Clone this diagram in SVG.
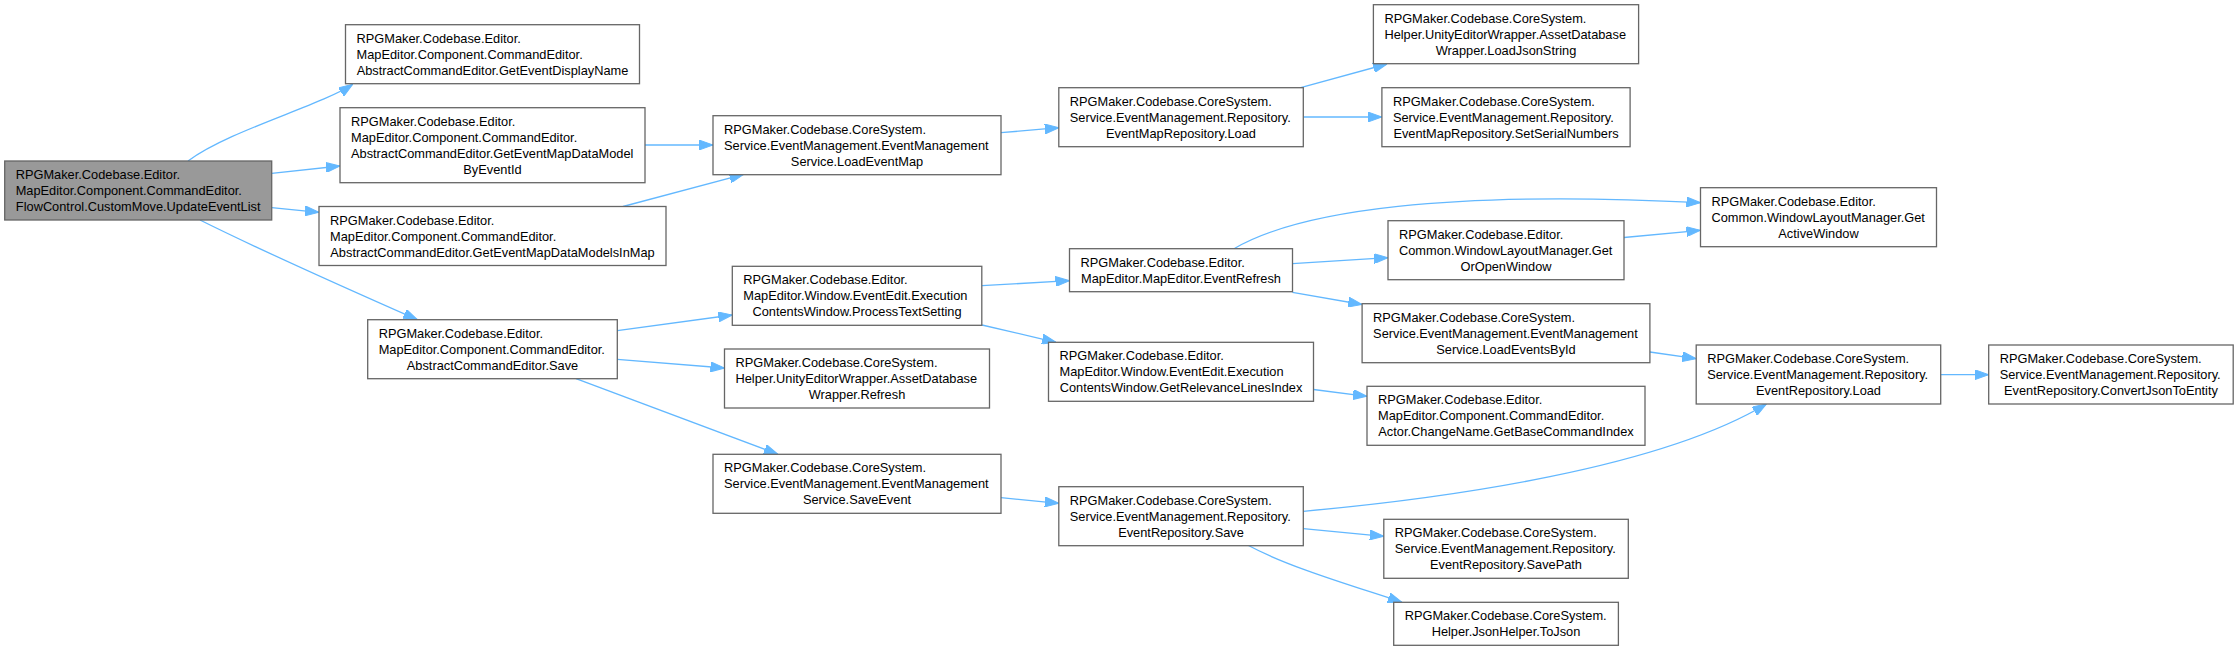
<svg xmlns="http://www.w3.org/2000/svg" width="2239" height="651" viewBox="0 0 2239 651">
<style>
.node rect{fill:#ffffff;stroke:#666666;stroke-width:1.3}
.node.root rect{fill:#999999}
.node text{font-family:"Liberation Sans",Arial,sans-serif;font-size:12.8px;fill:#000000}
.node text.c{text-anchor:middle}
.edges path{fill:none;stroke:#63b8ff;stroke-width:1.3;marker-end:url(#ah)}
</style>
<defs>
<marker id="ah" markerWidth="14" markerHeight="10" refX="14" refY="5" orient="auto" markerUnits="userSpaceOnUse"><path d="M0,0 L14,5 L0,10 z" fill="#63b8ff" stroke="#63b8ff" stroke-width="1"/></marker>
</defs>
<rect x="0" y="0" width="2239" height="651" fill="#ffffff"/>
<g class="edges" id="edges">
<path d="M188,161 C230,130 320,106 352.7,84.3"/>
<path d="M271.7,173.3 L340,166"/>
<path d="M271.7,207.7 L319,212.3"/>
<path d="M200,220 C260,250 350,290 417.4,319.7"/>
<path d="M645,145 L713,145"/>
<path d="M623,206.5 L743.6,174.3"/>
<path d="M1001,132.7 L1058.8,127.7"/>
<path d="M1300.7,87.7 L1387,64"/>
<path d="M1303.3,117 L1381.9,117"/>
<path d="M617.3,330.7 L732.3,315"/>
<path d="M617.3,359.3 L724.5,368"/>
<path d="M576,378.7 L778,454.3"/>
<path d="M982,285.7 L1069.5,280.7"/>
<path d="M982,325 L1056,342.3"/>
<path d="M1234,248.7 C1300,210 1450,190 1700.5,202.7"/>
<path d="M1292.5,263.7 L1388,257.7"/>
<path d="M1292.5,292.3 L1362.1,304.5"/>
<path d="M1313.5,389.5 L1367,396.3"/>
<path d="M1649.9,352 L1696.2,358.7"/>
<path d="M1303.3,511.3 C1450,498 1660,468 1766.4,404"/>
<path d="M1303.3,528.7 L1383.8,536.3"/>
<path d="M1248,545.3 C1290,568 1360,588 1402,602.3"/>
<path d="M1940.7,374.7 L1988.7,374.7"/>
<path d="M1001,497.7 L1058.8,503.3"/>
<path d="M1624,237.5 L1700.5,230.3"/>
</g>
<g class="node root" id="n_root"><rect x="4.7" y="161" width="267" height="59"/>
<text x="15.7" y="179">RPGMaker.Codebase.Editor.</text><text x="15.7" y="195">MapEditor.Component.CommandEditor.</text><text class="c" x="138.2" y="211">FlowControl.CustomMove.UpdateEventList</text></g>
<g class="node" id="n1"><rect x="345.5" y="24.7" width="294" height="59"/>
<text x="356.5" y="42.7">RPGMaker.Codebase.Editor.</text><text x="356.5" y="58.7">MapEditor.Component.CommandEditor.</text><text class="c" x="492.5" y="74.7">AbstractCommandEditor.GetEventDisplayName</text></g>
<g class="node" id="n2"><rect x="340" y="107.7" width="305" height="75"/>
<text x="351" y="125.7">RPGMaker.Codebase.Editor.</text><text x="351" y="141.7">MapEditor.Component.CommandEditor.</text><text x="351" y="157.7">AbstractCommandEditor.GetEventMapDataModel</text><text class="c" x="492.5" y="173.7">ByEventId</text></g>
<g class="node" id="n3"><rect x="319" y="206.5" width="347" height="59"/>
<text x="330" y="224.5">RPGMaker.Codebase.Editor.</text><text x="330" y="240.5">MapEditor.Component.CommandEditor.</text><text class="c" x="492.5" y="256.5">AbstractCommandEditor.GetEventMapDataModelsInMap</text></g>
<g class="node" id="n4"><rect x="367.7" y="319.7" width="249.6" height="59"/>
<text x="378.7" y="337.7">RPGMaker.Codebase.Editor.</text><text x="378.7" y="353.7">MapEditor.Component.CommandEditor.</text><text class="c" x="492.5" y="369.7">AbstractCommandEditor.Save</text></g>
<g class="node" id="n5"><rect x="713" y="115.7" width="288" height="59"/>
<text x="724" y="133.7">RPGMaker.Codebase.CoreSystem.</text><text x="724" y="149.7">Service.EventManagement.EventManagement</text><text class="c" x="857" y="165.7">Service.LoadEventMap</text></g>
<g class="node" id="n6"><rect x="1058.8" y="87.7" width="244.5" height="59"/>
<text x="1069.8" y="105.7">RPGMaker.Codebase.CoreSystem.</text><text x="1069.8" y="121.7">Service.EventManagement.Repository.</text><text class="c" x="1181" y="137.7">EventMapRepository.Load</text></g>
<g class="node" id="n7"><rect x="1373.4" y="4.7" width="265.2" height="59"/>
<text x="1384.4" y="22.7">RPGMaker.Codebase.CoreSystem.</text><text x="1384.4" y="38.7">Helper.UnityEditorWrapper.AssetDatabase</text><text class="c" x="1506" y="54.7">Wrapper.LoadJsonString</text></g>
<g class="node" id="n8"><rect x="1381.9" y="87.7" width="248.2" height="59"/>
<text x="1392.9" y="105.7">RPGMaker.Codebase.CoreSystem.</text><text x="1392.9" y="121.7">Service.EventManagement.Repository.</text><text class="c" x="1506" y="137.7">EventMapRepository.SetSerialNumbers</text></g>
<g class="node" id="n9"><rect x="732.3" y="266.3" width="249.5" height="59"/>
<text x="743.3" y="284.3">RPGMaker.Codebase.Editor.</text><text x="743.3" y="300.3">MapEditor.Window.EventEdit.Execution</text><text class="c" x="857" y="316.3">ContentsWindow.ProcessTextSetting</text></g>
<g class="node" id="n10"><rect x="1069.5" y="248.7" width="223" height="43"/>
<text x="1080.5" y="266.7">RPGMaker.Codebase.Editor.</text><text class="c" x="1181" y="282.7">MapEditor.MapEditor.EventRefresh</text></g>
<g class="node" id="n11"><rect x="1048.5" y="342.3" width="265" height="59"/>
<text x="1059.5" y="360.3">RPGMaker.Codebase.Editor.</text><text x="1059.5" y="376.3">MapEditor.Window.EventEdit.Execution</text><text class="c" x="1181" y="392.3">ContentsWindow.GetRelevanceLinesIndex</text></g>
<g class="node" id="n12"><rect x="724.5" y="349" width="265" height="59"/>
<text x="735.5" y="367">RPGMaker.Codebase.CoreSystem.</text><text x="735.5" y="383">Helper.UnityEditorWrapper.AssetDatabase</text><text class="c" x="857" y="399">Wrapper.Refresh</text></g>
<g class="node" id="n13"><rect x="713" y="454.3" width="288" height="59"/>
<text x="724" y="472.3">RPGMaker.Codebase.CoreSystem.</text><text x="724" y="488.3">Service.EventManagement.EventManagement</text><text class="c" x="857" y="504.3">Service.SaveEvent</text></g>
<g class="node" id="n14"><rect x="1058.8" y="486.7" width="244.5" height="59"/>
<text x="1069.8" y="504.7">RPGMaker.Codebase.CoreSystem.</text><text x="1069.8" y="520.7">Service.EventManagement.Repository.</text><text class="c" x="1181" y="536.7">EventRepository.Save</text></g>
<g class="node" id="n15"><rect x="1700.5" y="187.7" width="236" height="59"/>
<text x="1711.5" y="205.7">RPGMaker.Codebase.Editor.</text><text x="1711.5" y="221.7">Common.WindowLayoutManager.Get</text><text class="c" x="1818.5" y="237.7">ActiveWindow</text></g>
<g class="node" id="n16"><rect x="1388" y="220.7" width="236" height="59"/>
<text x="1399" y="238.7">RPGMaker.Codebase.Editor.</text><text x="1399" y="254.7">Common.WindowLayoutManager.Get</text><text class="c" x="1506" y="270.7">OrOpenWindow</text></g>
<g class="node" id="n17"><rect x="1362.1" y="303.7" width="287.8" height="59"/>
<text x="1373.1" y="321.7">RPGMaker.Codebase.CoreSystem.</text><text x="1373.1" y="337.7">Service.EventManagement.EventManagement</text><text class="c" x="1506" y="353.7">Service.LoadEventsById</text></g>
<g class="node" id="n18"><rect x="1696.2" y="345" width="244.5" height="59"/>
<text x="1707.2" y="363">RPGMaker.Codebase.CoreSystem.</text><text x="1707.2" y="379">Service.EventManagement.Repository.</text><text class="c" x="1818.5" y="395">EventRepository.Load</text></g>
<g class="node" id="n19"><rect x="1988.7" y="345" width="244.5" height="59"/>
<text x="1999.7" y="363">RPGMaker.Codebase.CoreSystem.</text><text x="1999.7" y="379">Service.EventManagement.Repository.</text><text class="c" x="2111" y="395">EventRepository.ConvertJsonToEntity</text></g>
<g class="node" id="n20"><rect x="1367" y="386.3" width="278" height="59"/>
<text x="1378" y="404.3">RPGMaker.Codebase.Editor.</text><text x="1378" y="420.3">MapEditor.Component.CommandEditor.</text><text class="c" x="1506" y="436.3">Actor.ChangeName.GetBaseCommandIndex</text></g>
<g class="node" id="n21"><rect x="1383.8" y="519.3" width="244.5" height="59"/>
<text x="1394.8" y="537.3">RPGMaker.Codebase.CoreSystem.</text><text x="1394.8" y="553.3">Service.EventManagement.Repository.</text><text class="c" x="1506" y="569.3">EventRepository.SavePath</text></g>
<g class="node" id="n22"><rect x="1393.7" y="602.3" width="224.7" height="43"/>
<text x="1404.7" y="620.3">RPGMaker.Codebase.CoreSystem.</text><text class="c" x="1506" y="636.3">Helper.JsonHelper.ToJson</text></g>
</svg>
